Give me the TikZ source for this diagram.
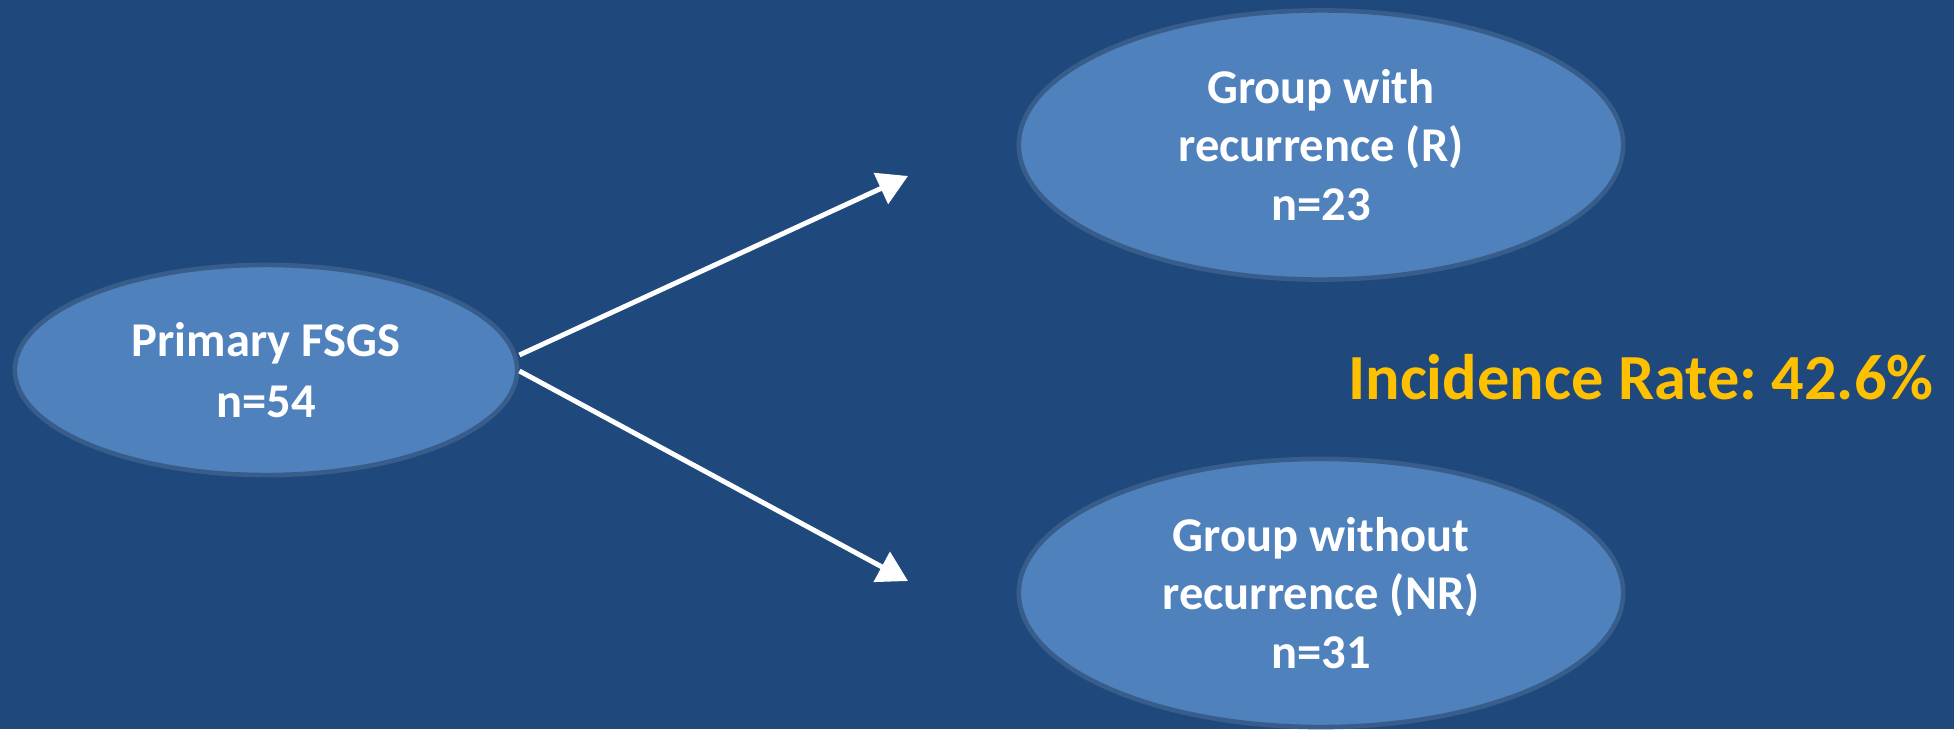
\documentclass[tikz,border=0pt]{standalone}
\usepackage{fontspec}
\setmainfont{Carlito}
\usetikzlibrary{shapes.geometric,arrows.meta}
\definecolor{bgblue}{HTML}{1F497D}
\definecolor{fillblue}{HTML}{4F81BD}
\definecolor{edgeblue}{HTML}{385D8A}
\definecolor{rateyellow}{HTML}{FFC000}
\frenchspacing
\begin{document}
\begin{tikzpicture}[x=0.01cm,y=-0.01cm,
    group/.style={ellipse,draw=edgeblue,line width=1.3pt,fill=fillblue,text=white,
      align=center,inner sep=0pt,font=\bfseries\fontsize{13.8}{16.6}\selectfont},
    flow/.style={draw=white,line width=1.4pt,-{Triangle[width=9.5pt,length=8.5pt]}}]
    \fill[bgblue] (0,0) rectangle (1954,729);
    \node[group,minimum width=5.02cm,minimum height=2.10cm,
      font=\bfseries\fontsize{13.8}{17.5}\selectfont] (fsgs) at (266,370) {Primary FSGS\\n=54};
    \node[group,minimum width=6.04cm,minimum height=2.69cm] (rec) at (1321,145) {Group with\\recurrence (R)\\n=23};
    \node[group,minimum width=6.04cm,minimum height=2.68cm] (norec) at (1321,593) {Group without\\recurrence (NR)\\n=31};
    \node[text=rateyellow,font=\bfseries\fontsize{18.3}{22}\selectfont] (rate) at (1641,377) {Incidence Rate: 42.6\%};
    \coordinate (uptip) at (908,176);
    \coordinate (lowtip) at (908,581);
    \draw[flow] ([yshift=0.15cm]fsgs.east) -- (uptip);
    \draw[flow] ([yshift=-0.01cm]fsgs.east) -- (lowtip);
  \end{tikzpicture}
\end{document}
